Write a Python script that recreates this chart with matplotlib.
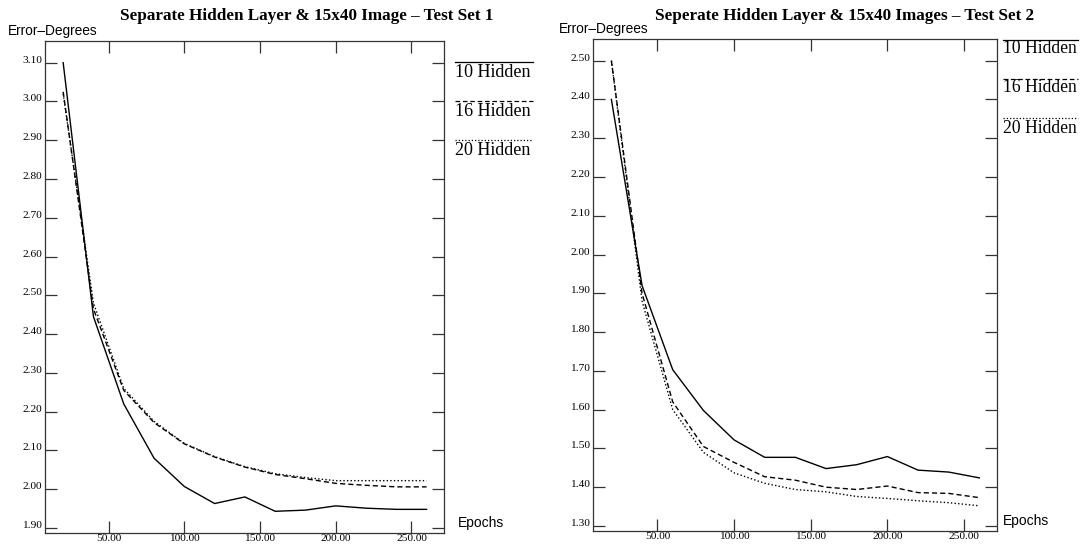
import matplotlib
matplotlib.use("Agg")
import matplotlib.pyplot as plt
from matplotlib.lines import Line2D

# epochs on the x axis
epochs = [20, 40, 60, 80, 100, 120, 140, 160, 180, 200, 220, 240, 260]

# test set 1: error in degrees
set1_h10 = [3.10, 2.445, 2.22, 2.08, 2.007, 1.963, 1.980, 1.943, 1.946, 1.957, 1.951, 1.948, 1.948]
set1_h16 = [3.025, 2.465, 2.255, 2.172, 2.117, 2.083, 2.057, 2.038, 2.027, 2.015, 2.010, 2.006, 2.006]
set1_h20 = [3.02, 2.48, 2.26, 2.175, 2.118, 2.084, 2.058, 2.040, 2.030, 2.022, 2.022, 2.022, 2.022]

# test set 2: error in degrees
set2_h10 = [2.40, 1.92, 1.703, 1.598, 1.522, 1.477, 1.477, 1.448, 1.458, 1.479, 1.444, 1.439, 1.424]
set2_h16 = [2.50, 1.90, 1.62, 1.505, 1.464, 1.427, 1.418, 1.400, 1.394, 1.403, 1.386, 1.384, 1.373]
set2_h20 = [2.50, 1.88, 1.60, 1.490, 1.437, 1.410, 1.394, 1.388, 1.376, 1.371, 1.365, 1.360, 1.352]

series_labels = ["10 Hidden", "16 Hidden", "20 Hidden"]
styles = ["-", (0, (3.7, 2.2)), (0, (1, 1.6))]

titles = ["Separate Hidden Layer & 15x40 Image \u2013 Test Set 1",
          "Seperate Hidden Layer & 15x40 Images \u2013 Test Set 2"]
y_ticks1 = [1.90, 2.00, 2.10, 2.20, 2.30, 2.40, 2.50, 2.60, 2.70, 2.80, 2.90, 3.00, 3.10]
y_ticks2 = [1.30, 1.40, 1.50, 1.60, 1.70, 1.80, 1.90, 2.00, 2.10, 2.20, 2.30, 2.40, 2.50]
x_ticks = [50, 100, 150, 200, 250]

W, H = 1084, 546
SERIF = "Liberation Serif"
SANS = "Liberation Sans"
SPINE = "#333333"


def px(x, y):
    # pixel position (from top-left) -> figure fraction
    return x / W, 1 - y / H


fig = plt.figure(figsize=(W / 100, H / 100), dpi=100)

# axes boxes in pixels: left, top, right, bottom
boxes = [(45, 41, 444, 533), (593, 39, 997, 531)]
ylims = [(1.887, 3.156), (1.287, 2.556)]
data = [[set1_h10, set1_h16, set1_h20], [set2_h10, set2_h16, set2_h20]]
yticks = [y_ticks1, y_ticks2]

title_pos = [(307, 16), (845, 16)]
ylab_pos = [(8, 31), (559, 29)]
xlab_pos = [(458, 523), (1003, 521)]
leg_x = [(455, 533), (1003, 1078)]
leg_line_y = [[62, 101, 140], [40, 79, 118]]
leg_text_y = [[77, 116, 155], [53, 92, 133]]
leg_size = [13, 12.7]

for i in range(2):
    l, t, r, b = boxes[i]
    ax = fig.add_axes([l / W, 1 - b / H, (r - l) / W, (b - t) / H])
    for vals, ls in zip(data[i], styles):
        ax.plot(epochs, vals, color="black", linestyle=ls, linewidth=1.0)
    ax.set_xlim(8, 271.5)
    ax.set_ylim(*ylims[i])
    ax.set_xticks(x_ticks)
    ax.set_yticks(yticks[i])
    ax.xaxis.set_major_formatter(matplotlib.ticker.FormatStrFormatter("%.2f"))
    ax.yaxis.set_major_formatter(matplotlib.ticker.FormatStrFormatter("%.2f"))
    ax.tick_params(direction="in", length=8.5, width=0.9, color=SPINE,
                   top=True, right=True, labelsize=8.2, pad=2)
    ax.tick_params(axis="x", pad=0.8)
    for lab in ax.get_xticklabels() + ax.get_yticklabels():
        lab.set_fontfamily(SERIF)
    for lab in ax.get_yticklabels():
        lab.set_verticalalignment("baseline")
    for s in ax.spines.values():
        s.set_color(SPINE)
        s.set_linewidth(0.9)

    fig.text(*px(*title_pos[i]), titles[i], ha="center", va="center",
             fontfamily=SERIF, fontweight="bold", fontsize=12.3)
    fig.text(*px(*ylab_pos[i]), "Error\u2013Degrees", ha="left", va="center",
             fontfamily=SANS, fontsize=9.9)
    fig.text(*px(*xlab_pos[i]), "Epochs", ha="left", va="center",
             fontfamily=SANS, fontsize=10)

    # legend: key line above each label
    x0, x1 = leg_x[i]
    for name, ls, ly, ty in zip(series_labels, styles, leg_line_y[i], leg_text_y[i]):
        (fx0, fy), (fx1, _) = px(x0, ly), px(x1, ly)
        fig.add_artist(Line2D([fx0, fx1], [fy, fy], color="black",
                              linestyle=ls, linewidth=0.9,
                              transform=fig.transFigure))
        fig.text(*px(x0, ty), name, ha="left", va="baseline",
                 fontfamily=SERIF, fontsize=leg_size[i])

fig.savefig("out.png", dpi=100)
